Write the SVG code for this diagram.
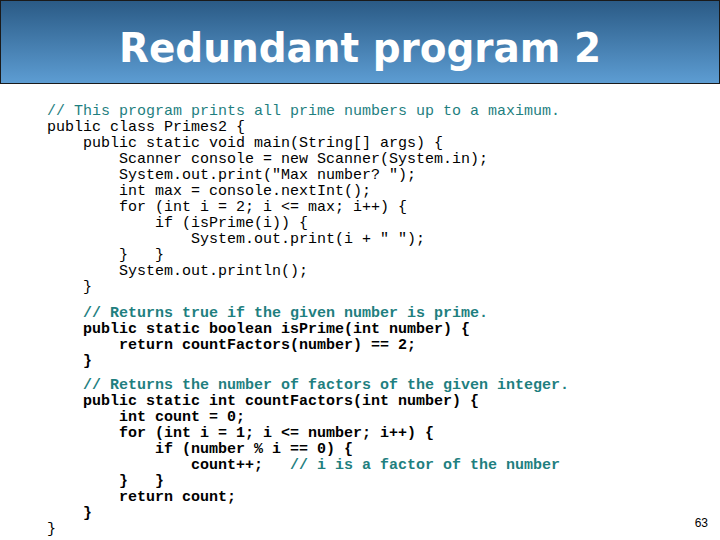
<svg xmlns="http://www.w3.org/2000/svg" width="720" height="540" viewBox="0 0 720 540">
<defs><linearGradient id="g" x1="0" y1="0" x2="0" y2="1"><stop offset="0" stop-color="#2a5a85"/><stop offset="1" stop-color="#5d9dd3"/></linearGradient>
<style>
.c{font-family:"Liberation Mono",monospace;font-size:15px;fill:#000;white-space:pre}
.b{font-weight:bold}
.k{fill:#1f7f7f}
</style></defs>
<rect width="720" height="540" fill="#fff"/>
<g id="header"><rect x="0.5" y="0.5" width="719" height="83" fill="url(#g)" stroke="#1a1a1a"/>
<text x="360" y="62" text-anchor="middle" font-family="'DejaVu Sans',sans-serif" font-weight="bold" font-size="40" fill="#fff" textLength="482" lengthAdjust="spacingAndGlyphs">Redundant program 2</text></g>
<g id="code" xml:space="preserve">
<text class="c" x="47" y="115"><tspan class="k">// This program prints all prime numbers up to a maximum.</tspan></text>
<text class="c" x="47" y="131">public class Primes2 {</text>
<text class="c" x="47" y="147">    public static void main(String[] args) {</text>
<text class="c" x="47" y="163">        Scanner console = new Scanner(System.in);</text>
<text class="c" x="47" y="179">        System.out.print("Max number? ");</text>
<text class="c" x="47" y="195">        int max = console.nextInt();</text>
<text class="c" x="47" y="211">        for (int i = 2; i &lt;= max; i++) {</text>
<text class="c" x="47" y="227">            if (isPrime(i)) {</text>
<text class="c" x="47" y="243">                System.out.print(i + " ");</text>
<text class="c" x="47" y="259">        }   }</text>
<text class="c" x="47" y="275">        System.out.println();</text>
<text class="c" x="47" y="291">    }</text>
<text class="c b k" x="47" y="317">    // Returns true if the given number is prime.</text>
<text class="c b" x="47" y="333">    public static boolean isPrime(int number) {</text>
<text class="c b" x="47" y="349">        return countFactors(number) == 2;</text>
<text class="c b" x="47" y="365">    }</text>
<text class="c b k" x="47" y="389">    // Returns the number of factors of the given integer.</text>
<text class="c b" x="47" y="405">    public static int countFactors(int number) {</text>
<text class="c b" x="47" y="421">        int count = 0;</text>
<text class="c b" x="47" y="437">        for (int i = 1; i &lt;= number; i++) {</text>
<text class="c b" x="47" y="453">            if (number % i == 0) {</text>
<text class="c b" x="47" y="469">                count++;   <tspan class="k">// i is a factor of the number</tspan></text>
<text class="c b" x="47" y="485">        }   }</text>
<text class="c b" x="47" y="501">        return count;</text>
<text class="c b" x="47" y="517">    }</text>
<text class="c" x="47" y="533">}</text>
</g>
<text x="708" y="527" text-anchor="end" font-family="'Liberation Sans',sans-serif" font-size="12">63</text>
</svg>
